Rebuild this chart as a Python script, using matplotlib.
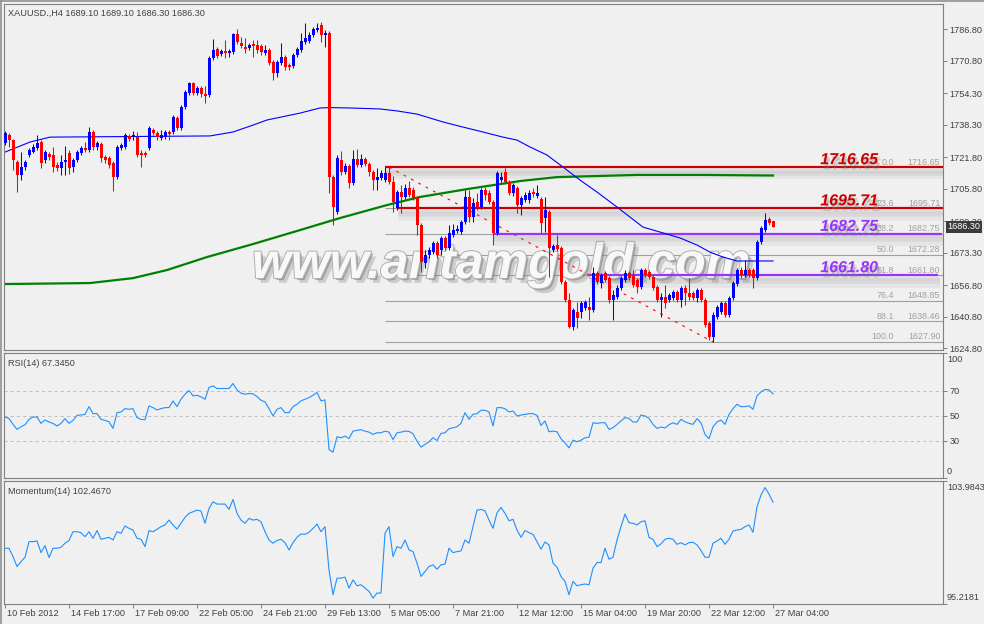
import matplotlib
matplotlib.use("Agg")
import matplotlib.pyplot as plt
import matplotlib.patheffects as pe
import matplotlib.transforms as mtrans
from matplotlib import font_manager
import numpy as np

# ---------------- data ----------------
symbol_title = "XAUUSD.,H4 1689.10 1689.10 1686.30 1686.30"
rsi_title = "RSI(14) 67.3450"
mom_title = "Momentum(14) 102.4670"
watermark = "www.antamgold.com"

x_labels = ["10 Feb 2012", "14 Feb 17:00", "17 Feb 09:00", "22 Feb 05:00", "24 Feb 21:00",
            "29 Feb 13:00", "5 Mar 05:00", "7 Mar 21:00", "12 Mar 12:00", "15 Mar 04:00",
            "19 Mar 20:00", "22 Mar 12:00", "27 Mar 04:00"]
x_label_bars = [0, 16, 32, 48, 64, 80, 96, 112, 128, 144, 160, 176, 192]

price_ticks = [1786.80, 1770.80, 1754.30, 1738.30, 1721.80, 1705.80, 1689.30,
               1673.30, 1656.80, 1640.80, 1624.80]

open_ = [1728.9, 1733.0, 1730.4, 1719.3, 1712.7, 1716.7, 1722.8, 1724.3, 1726.4, 1729.4,
         1720.3, 1723.3, 1722.8, 1717.7, 1716.2, 1719.3, 1723.8, 1716.7, 1720.3, 1723.8,
         1726.4, 1725.4, 1734.5, 1726.9, 1728.4, 1721.8, 1721.3, 1718.7, 1711.6, 1726.4,
         1726.9, 1732.5, 1731.9, 1731.9, 1723.8, 1723.8, 1726.4, 1735.5, 1734.0, 1731.4,
         1731.9, 1734.5, 1734.5, 1741.6, 1736.5, 1747.2, 1754.3, 1759.4, 1754.3, 1756.8,
         1753.8, 1753.3, 1772.1, 1776.7, 1774.1, 1775.6, 1774.6, 1775.1, 1784.3, 1779.7,
         1777.7, 1777.2, 1779.2, 1778.7, 1778.2, 1774.6, 1776.1, 1770.0, 1764.5, 1769.5,
         1772.6, 1768.5, 1768.0, 1773.6, 1776.1, 1780.2, 1780.7, 1783.8, 1786.3, 1788.8,
         1783.8, 1784.8, 1711.6, 1693.9, 1720.3, 1714.2, 1717.2, 1708.6, 1720.8, 1717.7,
         1720.8, 1718.2, 1714.2, 1710.1, 1711.1, 1710.1, 1713.7, 1709.1, 1695.9, 1704.0,
         1701.5, 1706.1, 1705.0, 1701.0, 1687.3, 1668.0, 1672.0, 1673.5, 1678.1, 1674.6,
         1680.7, 1675.6, 1682.2, 1684.2, 1683.7, 1688.8, 1701.5, 1691.3, 1698.9, 1696.4,
         1705.0, 1703.5, 1698.9, 1683.2, 1710.1, 1714.2, 1709.1, 1703.5, 1706.1, 1697.4,
         1700.0, 1700.0, 1704.0, 1702.0, 1700.5, 1690.8, 1693.9, 1674.6, 1677.1, 1675.6,
         1658.3, 1649.2, 1635.5, 1643.1, 1643.1, 1645.1, 1645.6, 1644.1, 1662.9, 1657.8,
         1662.9, 1660.3, 1649.2, 1650.7, 1655.3, 1659.3, 1662.9, 1661.9, 1659.3, 1655.8,
         1664.4, 1663.4, 1660.9, 1655.8, 1649.2, 1650.7, 1649.2, 1650.2, 1653.2, 1649.2,
         1655.3, 1652.7, 1652.7, 1650.2, 1654.2, 1649.2, 1637.5, 1630.4, 1640.5, 1643.1,
         1647.6, 1641.6, 1650.2, 1657.3, 1664.4, 1661.9, 1664.4, 1664.4, 1660.3, 1678.6,
         1684.7, 1690.3, 1689.1]

high = [1735.0, 1734.0, 1730.9, 1720.3, 1724.3, 1720.3, 1726.4, 1728.4, 1733.0, 1730.4,
        1725.4, 1724.3, 1726.9, 1719.3, 1722.8, 1727.4, 1725.4, 1721.3, 1725.4, 1727.4,
        1729.4, 1737.0, 1735.5, 1729.9, 1729.4, 1722.8, 1722.3, 1719.8, 1727.9, 1728.9,
        1734.0, 1733.5, 1735.0, 1734.5, 1725.4, 1724.8, 1737.5, 1736.5, 1735.0, 1735.5,
        1735.5, 1735.5, 1743.1, 1742.6, 1748.2, 1755.8, 1759.9, 1759.9, 1757.9, 1757.9,
        1757.9, 1773.1, 1781.7, 1777.7, 1776.7, 1781.2, 1776.7, 1784.8, 1786.8, 1782.7,
        1782.2, 1779.7, 1781.2, 1781.2, 1779.2, 1778.7, 1777.2, 1771.1, 1771.1, 1779.7,
        1773.6, 1769.5, 1774.6, 1777.7, 1784.8, 1789.9, 1785.3, 1787.8, 1789.9, 1790.4,
        1786.3, 1785.8, 1712.7, 1722.8, 1724.8, 1718.7, 1718.2, 1725.4, 1725.8, 1723.3,
        1721.8, 1719.3, 1715.2, 1716.2, 1715.2, 1716.6, 1716.65, 1712.2, 1705.0, 1707.6,
        1708.1, 1709.6, 1706.6, 1702.0, 1688.3, 1674.6, 1676.1, 1679.1, 1679.1, 1681.7,
        1681.7, 1687.3, 1687.8, 1687.3, 1689.8, 1705.0, 1705.0, 1701.0, 1703.5, 1706.1,
        1706.6, 1705.0, 1700.0, 1714.7, 1714.2, 1716.2, 1710.1, 1708.6, 1707.1, 1702.0,
        1704.0, 1705.0, 1706.1, 1707.6, 1701.5, 1701.5, 1694.9, 1677.6, 1682.2, 1676.6,
        1659.3, 1652.7, 1645.1, 1648.2, 1648.7, 1649.2, 1650.7, 1665.9, 1663.9, 1662.9,
        1663.9, 1661.4, 1654.2, 1656.8, 1661.4, 1664.4, 1663.9, 1664.4, 1660.3, 1665.4,
        1665.4, 1664.4, 1661.9, 1656.8, 1652.7, 1656.8, 1652.7, 1654.2, 1654.2, 1656.3,
        1656.8, 1660.3, 1653.7, 1655.3, 1655.3, 1650.2, 1638.5, 1643.1, 1646.6, 1648.7,
        1648.7, 1651.2, 1658.8, 1665.4, 1665.9, 1669.5, 1665.4, 1665.4, 1679.6, 1686.7,
        1693.4, 1691.3, 1689.1]

low = [1727.9, 1726.9, 1715.2, 1704.0, 1710.1, 1715.2, 1721.8, 1723.8, 1725.4, 1716.2,
       1718.7, 1720.3, 1714.2, 1714.7, 1712.7, 1712.7, 1713.2, 1714.2, 1719.3, 1722.8,
       1724.3, 1724.3, 1725.4, 1725.4, 1719.3, 1718.7, 1716.2, 1704.5, 1710.6, 1725.4,
       1725.8, 1729.9, 1730.4, 1721.8, 1716.7, 1721.8, 1725.4, 1733.0, 1730.4, 1730.4,
       1730.9, 1730.4, 1733.5, 1735.5, 1735.5, 1746.2, 1753.3, 1753.3, 1753.3, 1752.3,
       1749.2, 1752.3, 1771.1, 1772.1, 1773.1, 1772.1, 1772.6, 1774.1, 1779.2, 1777.2,
       1774.6, 1776.1, 1772.6, 1774.6, 1773.6, 1773.6, 1768.5, 1760.9, 1762.4, 1768.5,
       1766.0, 1766.0, 1767.0, 1772.6, 1775.1, 1779.2, 1779.7, 1782.7, 1785.3, 1780.2,
       1777.7, 1703.5, 1687.3, 1692.9, 1712.7, 1713.2, 1706.1, 1707.6, 1716.7, 1716.7,
       1717.2, 1712.2, 1705.0, 1705.0, 1710.1, 1709.1, 1708.1, 1693.9, 1694.9, 1693.4,
       1700.5, 1701.5, 1700.0, 1682.2, 1663.4, 1665.4, 1670.5, 1672.5, 1670.5, 1672.0,
       1674.6, 1674.6, 1681.2, 1683.2, 1682.7, 1687.8, 1688.8, 1688.8, 1694.9, 1695.4,
       1700.0, 1697.9, 1677.1, 1682.2, 1709.1, 1708.1, 1702.5, 1702.0, 1693.4, 1692.3,
       1698.9, 1698.4, 1701.5, 1701.0, 1683.2, 1683.7, 1660.9, 1673.5, 1674.1, 1657.3,
       1648.2, 1634.9, 1633.9, 1634.9, 1640.0, 1644.1, 1639.0, 1643.1, 1657.3, 1655.3,
       1658.3, 1647.6, 1639.0, 1649.7, 1654.2, 1658.3, 1659.3, 1655.8, 1652.7, 1654.8,
       1660.9, 1659.8, 1654.2, 1648.2, 1640.5, 1645.1, 1648.2, 1649.2, 1648.2, 1645.6,
       1646.6, 1649.2, 1649.2, 1648.2, 1648.2, 1635.5, 1628.9, 1627.9, 1639.5, 1642.1,
       1640.5, 1640.5, 1649.2, 1656.3, 1660.3, 1660.9, 1660.9, 1655.3, 1659.3, 1677.6,
       1683.7, 1687.3, 1686.3]

close = [1734.0, 1730.4, 1720.3, 1712.7, 1716.7, 1719.3, 1725.4, 1726.9, 1728.9, 1718.7,
         1724.3, 1721.8, 1716.7, 1716.2, 1719.3, 1720.3, 1716.2, 1720.3, 1724.3, 1726.4,
         1725.4, 1734.5, 1726.9, 1728.9, 1721.3, 1720.3, 1717.7, 1711.6, 1726.9, 1727.9,
         1733.0, 1730.9, 1733.0, 1722.8, 1722.8, 1722.8, 1736.5, 1734.0, 1731.9, 1733.0,
         1734.5, 1733.5, 1742.1, 1736.5, 1747.2, 1754.8, 1759.4, 1754.3, 1756.8, 1753.8,
         1752.8, 1772.1, 1776.1, 1773.1, 1775.6, 1774.6, 1775.6, 1784.3, 1780.2, 1778.2,
         1776.7, 1778.7, 1778.2, 1776.1, 1775.1, 1776.1, 1769.5, 1764.5, 1770.0, 1772.6,
         1767.5, 1767.5, 1773.6, 1776.7, 1780.7, 1782.2, 1783.8, 1786.8, 1787.3, 1783.8,
         1784.8, 1711.6, 1696.4, 1721.3, 1714.2, 1717.2, 1708.6, 1720.8, 1717.7, 1720.8,
         1718.2, 1714.2, 1710.1, 1711.6, 1713.7, 1713.7, 1709.1, 1698.9, 1704.0, 1701.5,
         1706.1, 1702.5, 1701.0, 1687.3, 1668.5, 1672.0, 1674.6, 1678.1, 1672.0, 1680.7,
         1675.6, 1683.2, 1684.7, 1685.2, 1688.8, 1701.5, 1691.3, 1698.4, 1696.4, 1705.0,
         1702.5, 1698.9, 1683.2, 1713.7, 1711.6, 1709.1, 1703.5, 1707.6, 1697.4, 1701.0,
         1702.5, 1703.5, 1703.0, 1703.5, 1688.3, 1694.9, 1675.6, 1676.6, 1675.1, 1658.3,
         1649.2, 1635.5, 1644.1, 1640.0, 1647.6, 1648.2, 1644.1, 1662.9, 1658.3, 1661.9,
         1659.3, 1649.2, 1651.7, 1655.3, 1660.3, 1662.9, 1660.3, 1656.8, 1655.8, 1664.4,
         1661.9, 1660.9, 1655.3, 1649.2, 1650.7, 1647.6, 1651.7, 1653.2, 1649.2, 1655.3,
         1652.7, 1650.7, 1650.2, 1654.2, 1649.2, 1636.5, 1630.4, 1641.6, 1645.6, 1647.6,
         1641.6, 1650.2, 1657.8, 1664.4, 1661.9, 1664.4, 1661.9, 1660.3, 1678.6, 1685.7,
         1689.8, 1688.3, 1686.3]

rsi = [48.8, 47.7, 42.9, 38.9, 41.0, 42.6, 46.9, 48.8, 48.8, 43.7,
       46.4, 44.8, 43.7, 41.6, 43.7, 47.5, 43.7, 46.1, 50.1, 50.4,
       50.9, 57.1, 51.5, 51.5, 46.9, 46.1, 45.0, 39.7, 52.3, 52.8,
       55.5, 55.0, 55.5, 48.3, 46.9, 46.6, 57.7, 56.3, 54.4, 55.5,
       56.3, 56.3, 61.7, 57.1, 63.0, 67.0, 70.0, 65.7, 66.2, 64.9,
       63.0, 72.4, 73.7, 71.6, 71.6, 71.6, 71.6, 75.6, 70.5, 67.9,
       67.0, 67.6, 67.3, 65.2, 62.2, 60.9, 55.5, 49.6, 55.0, 56.3,
       52.3, 52.3, 57.1, 59.0, 61.7, 63.0, 64.3, 66.2, 68.4, 61.7,
       62.5, 22.8, 20.6, 33.0, 32.2, 33.5, 31.6, 37.5, 38.1, 38.6,
       37.5, 36.7, 34.9, 36.2, 36.2, 37.5, 36.7, 30.8, 36.2, 36.7,
       37.5, 37.3, 35.4, 29.5, 24.7, 26.8, 29.0, 32.2, 30.0, 35.7,
       36.2, 39.4, 40.2, 41.0, 43.7, 52.3, 46.9, 50.9, 51.5, 54.2,
       54.2, 52.8, 41.6, 56.3, 56.3, 55.5, 52.8, 53.6, 49.6, 50.4,
       50.9, 51.5, 51.5, 50.1, 42.1, 45.6, 37.0, 37.5, 37.0, 31.4,
       28.1, 24.1, 30.3, 29.0, 30.3, 32.2, 32.7, 44.2, 43.7, 44.2,
       44.2, 38.9, 40.2, 42.9, 45.6, 48.3, 47.7, 44.8, 44.8, 50.4,
       49.6, 47.7, 42.9, 39.7, 40.8, 40.0, 42.6, 44.2, 42.9, 46.9,
       45.0, 43.7, 42.9, 47.5, 44.2, 34.9, 31.4, 41.0, 44.8, 46.4,
       42.9, 50.9, 55.5, 59.0, 57.1, 57.1, 57.7, 55.0, 65.7, 68.9,
       70.8, 70.5, 67.3]

momentum = [99.19, 99.19, 98.60, 97.89, 98.24, 98.55, 99.66, 99.66, 99.71, 98.88,
            99.38, 98.53, 99.19, 99.19, 99.26, 99.55, 99.74, 100.37, 100.37, 100.30,
            100.02, 100.37, 99.90, 100.45, 99.83, 99.90, 99.97, 99.78, 100.37, 100.26,
            100.78, 100.61, 100.49, 99.90, 99.83, 99.31, 100.45, 100.37, 100.54, 100.73,
            100.85, 101.20, 100.85, 100.56, 100.97, 101.39, 101.68, 101.79, 101.91, 101.84,
            100.97, 102.03, 102.50, 102.34, 102.34, 102.34, 101.96, 102.67, 101.68, 101.20,
            100.97, 101.32, 101.20, 101.25, 101.08, 100.37, 99.78, 99.55, 99.74, 99.83,
            99.59, 99.07, 99.59, 99.97, 100.21, 100.18, 100.33, 100.61, 100.92, 100.37,
            100.73, 97.65, 95.88, 97.06, 97.06, 97.13, 96.35, 96.94, 96.52, 96.59,
            96.35, 96.12, 95.64, 96.00, 96.00, 100.26, 100.73, 98.60, 99.31, 99.19,
            99.78, 99.07, 98.95, 98.13, 97.18, 97.53, 97.89, 98.01, 97.70, 98.01,
            98.06, 99.19, 98.88, 98.95, 99.00, 99.78, 99.55, 100.73, 101.91, 101.96,
            101.86, 101.20, 100.61, 101.72, 102.10, 101.68, 101.15, 101.25, 100.49, 99.97,
            100.45, 100.30, 100.18, 99.66, 99.12, 99.64, 99.43, 98.13, 97.84, 97.18,
            96.83, 95.88, 96.83, 96.52, 96.59, 96.64, 96.59, 97.77, 98.17, 98.17,
            99.19, 98.41, 98.55, 99.78, 100.73, 101.63, 101.01, 100.97, 100.85, 101.08,
            101.15, 99.97, 99.83, 99.31, 99.50, 99.83, 99.90, 99.83, 99.47, 99.59,
            99.43, 99.59, 99.62, 99.43, 99.03, 98.55, 98.55, 99.55, 99.71, 99.90,
            99.47, 99.83, 100.42, 100.49, 100.54, 100.73, 100.85, 100.33, 102.15, 102.98,
            103.52, 103.05, 102.47]

blue_ma_x = [0, 6.25, 11.25, 51.25, 57, 62, 65.5, 73.75, 78.75, 81.25, 86.25, 93.75, 98, 103,
             109.5, 114.5, 119.5, 124.5, 128, 131.25, 135.5, 139.5, 143.75, 148, 153, 156.25,
             159.5, 163.75, 168.75, 173, 176.25, 179.5, 183, 192]
blue_ma_y = [1724.3, 1729.4, 1731.9, 1732.5, 1734.5, 1738.0, 1740.6, 1744.1, 1746.7, 1746.9,
             1746.7, 1746.2, 1745.2, 1743.6, 1739.6, 1737.0, 1734.5, 1731.9, 1730.4, 1726.9,
             1722.8, 1716.7, 1710.1, 1704.0, 1696.4, 1691.3, 1686.2, 1683.7, 1680.7, 1677.1,
             1673.5, 1671.0, 1669.0, 1669.0]

green_ma_x = [0, 21.25, 32, 40.5, 50.5, 62, 73.75, 83.75, 95.5, 103.75, 115.5, 128.75, 138,
              158, 174.25, 192]
green_ma_y = [1657.3, 1657.8, 1660.3, 1664.4, 1671.0, 1677.6, 1684.7, 1690.8, 1697.4, 1701.5,
              1705.5, 1709.6, 1711.6, 1712.7, 1712.7, 1712.4]

fib_ratios = ["0.0", "23.6", "38.2", "50.0", "61.8", "76.4", "88.1", "100.0"]
fib_values = [1716.65, 1695.71, 1682.75, 1672.28, 1661.80, 1648.85, 1638.46, 1627.90]
fib_start_bar = 95
fib_trend_bars = [96, 177]
fib_trend_prices = [1716.65, 1627.90]

level_values = [1716.65, 1695.71, 1682.75, 1661.80]
level_labels = ["1716.65", "1695.71", "1682.75", "1661.80"]
level_start_bars = [95, 98, 122, 146]
level_end_bars = [234.6, 234.6, 234.3, 233.3]
level_colors = ["#cc0000", "#cc0000", "#9933ff", "#9933ff"]

last_price = 1686.30

# ---------------- figure ----------------
W, H = 984, 624
BG = "#f0f0f0"
AXC = "#808080"
TXT = "#404040"

avail = {f.name for f in font_manager.fontManager.ttflist}
base_font = "Liberation Sans" if "Liberation Sans" in avail else "DejaVu Sans"
big_font = "Liberation Sans Narrow" if "Liberation Sans Narrow" in avail else base_font
plt.rcParams["font.family"] = [base_font, "DejaVu Sans"]

fig = plt.figure(figsize=(W / 100, H / 100), dpi=100)
fig.patch.set_facecolor(BG)


def axes_px(left, top, right, bottom):
    return fig.add_axes([left / W, 1 - bottom / H, (right - left) / W, (bottom - top) / H])


ax = axes_px(4, 4, 943, 350)
ax_rsi = axes_px(4, 353, 943, 478)
ax_mom = axes_px(4, 481, 943, 604)

XMIN, XMAX = -0.25, 234.5
for a in (ax, ax_rsi, ax_mom):
    a.set_facecolor(BG)
    a.set_xlim(XMIN, XMAX)
    for s in a.spines.values():
        s.set_color(AXC)
        s.set_linewidth(0.8)
    a.yaxis.tick_right()
    a.tick_params(axis="y", direction="out", length=3, width=0.7, color=AXC,
                  labelsize=6.6, labelcolor=TXT, pad=1.5)
    a.tick_params(axis="x", bottom=False, labelbottom=False)

# ---------- main price panel ----------
ax.set_ylim(1623.8, 1799.5)
ax.set_yticks(price_ticks)
ax.set_yticklabels([f"{v:.2f}" for v in price_ticks])

o = np.array(open_)
h = np.array(high)
l = np.array(low)
c = np.array(close)
idx = np.arange(len(c))
cols = np.where(c >= o, "#0000ff", "#ff0000")

# fibonacci grid
ax.hlines(fib_values, fib_start_bar, XMAX, colors="#a0a0a0", lw=0.8, zorder=1)
tr_up5 = mtrans.offset_copy(ax.transData, fig=fig, x=0, y=5, units="dots")
for r, v in zip(fib_ratios, fib_values):
    ax.text(222.25, v, r, transform=tr_up5, ha="right", va="center", fontsize=6.4,
            color="#a0a0a0", zorder=1)
    ax.text(233.8, v, f"{v:.2f}", transform=tr_up5, ha="right", va="center", fontsize=6.4,
            color="#a0a0a0", zorder=1)

# watermark (embossed look)
ax.text(252 / W, 1 - 278 / H, watermark, transform=fig.transFigure, fontsize=36,
        style="italic", fontweight="bold", color="#f8f8f8", ha="left", va="baseline",
        zorder=1.5,
        path_effects=[pe.SimplePatchShadow(offset=(3.5, -3.5), shadow_rgbFace="#8a8a8a", alpha=0.35),
                      pe.SimplePatchShadow(offset=(1.5, -1.5), shadow_rgbFace="#6a6a6a", alpha=0.45),
                      pe.withStroke(linewidth=1.4, foreground="#b0b0b0")])

# fib trend line
ax.plot(fib_trend_bars, fib_trend_prices, color="#ff0000", lw=0.8, ls=(0, (2.5, 5)), zorder=2)

# level lines with soft shadows
for v, s, e, col in zip(level_values, level_start_bars, level_end_bars, level_colors):
    ax.plot([s, e], [v, v], color=col, lw=1.6, zorder=2.2, solid_capstyle="butt",
            path_effects=[pe.SimpleLineShadow(offset=(1, -6), shadow_color="#8c8c8c", alpha=0.10,
                                              linewidth=5),
                          pe.SimpleLineShadow(offset=(1, -4), shadow_color="#8c8c8c", alpha=0.14,
                                              linewidth=4),
                          pe.SimpleLineShadow(offset=(1, -2.5), shadow_color="#8c8c8c", alpha=0.14,
                                              linewidth=3),
                          pe.Normal()])

# moving averages
ax.plot(green_ma_x, green_ma_y, color="#008000", lw=1.6, zorder=2.5)
ax.plot(blue_ma_x, blue_ma_y, color="#0000ff", lw=0.8, zorder=2.5)

# candles
ax.vlines(idx, l, h, colors=cols, lw=0.75, zorder=3)
body_h = np.maximum(np.abs(c - o), 0.45)
ax.bar(idx, body_h, bottom=np.minimum(o, c), width=0.75, color=cols, lw=0, zorder=3.1)

# big level labels
tr_up7 = mtrans.offset_copy(ax.transData, fig=fig, x=0, y=7.5, units="dots")
for v, txt, col in zip(level_values, level_labels, level_colors):
    ax.text(218.25, v, txt, transform=tr_up7, ha="right", va="center", fontsize=11.5,
            fontweight="bold", style="italic", family=[big_font, "DejaVu Sans"], color=col,
            zorder=4,
            path_effects=[pe.SimplePatchShadow(offset=(2, -4), shadow_rgbFace="#808080", alpha=0.25),
                          pe.SimplePatchShadow(offset=(1, -2.5), shadow_rgbFace="#707070", alpha=0.3),
                          pe.Normal()])

# current price box
blend = mtrans.blended_transform_factory(ax.transAxes, ax.transData)
ax.text(1 + 21 / 939, last_price, f"{last_price:.2f}", transform=blend, ha="center",
        va="center", fontsize=6.6, color="white", clip_on=False, zorder=10,
        bbox=dict(boxstyle="square,pad=0.18", fc="#3c3c3c", ec="none"))

fig.text(8 / W, 1 - 13 / H, symbol_title, fontsize=6.6, color=TXT, ha="left", va="center")

# ---------- RSI panel ----------
ax_rsi.set_ylim(0, 100)
ax_rsi.set_yticks([100, 70, 50, 30, 0])
ax_rsi.set_yticklabels(["", "70", "50", "30", ""])
for lev in (70, 50, 30):
    ax_rsi.axhline(lev, color="#c0c0c0", lw=0.75, ls=(0, (3, 3)), zorder=1)
ax_rsi.plot(idx, rsi, color="#1e90ff", lw=0.8, zorder=3)
fig.text(947 / W, 1 - 360 / H, "100", fontsize=6.6, color=TXT, ha="left", va="center")
fig.text(947 / W, 1 - 471 / H, "0", fontsize=6.6, color=TXT, ha="left", va="center")
fig.text(8 / W, 1 - 363 / H, rsi_title, fontsize=6.6, color=TXT, ha="left", va="center")

# ---------- Momentum panel ----------
mom_top, mom_bot = 103.9843, 95.2181
ax_mom.set_ylim(mom_bot, mom_top)
ax_mom.set_yticks([mom_top, mom_bot])
ax_mom.set_yticklabels(["", ""])
ax_mom.plot(idx, momentum, color="#1e90ff", lw=0.8, zorder=3)
fig.text(947 / W, 1 - 488 / H, f"{mom_top:.4f}", fontsize=6.6, color=TXT, ha="left", va="center")
fig.text(947 / W, 1 - 597 / H, f"{mom_bot:.4f}", fontsize=6.6, color=TXT, ha="left", va="center")
fig.text(8 / W, 1 - 491 / H, mom_title, fontsize=6.6, color=TXT, ha="left", va="center")

# x axis ticks and labels
ax_mom.set_xticks(x_label_bars)
ax_mom.tick_params(axis="x", bottom=True, labelbottom=False, direction="out", length=3,
                   width=0.7, color=AXC)
for b, lab in zip(x_label_bars, x_labels):
    fig.text((5 + 4 * b + 2) / W, 1 - 613 / H, lab, fontsize=6.6, color=TXT,
             ha="left", va="center")

# window frame
fig.add_artist(plt.Line2D([1 / W, 1 / W], [0, 1], transform=fig.transFigure, color="#909090", lw=1.2))
fig.add_artist(plt.Line2D([0, 1], [1 - 1 / H, 1 - 1 / H], transform=fig.transFigure, color="#909090", lw=1.2))

fig.savefig("out.png", dpi=100, facecolor=fig.get_facecolor())
